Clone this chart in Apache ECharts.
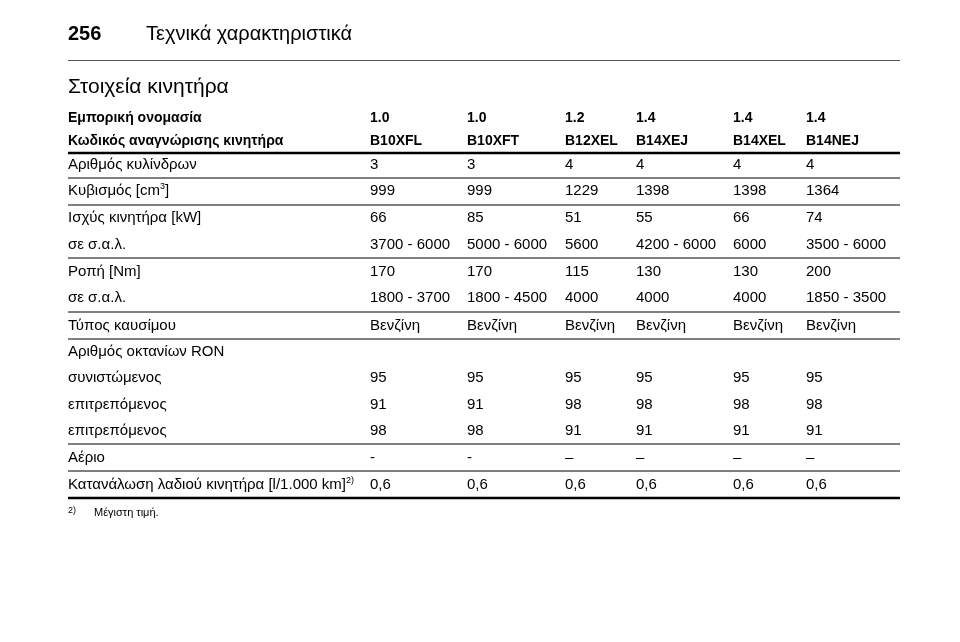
<!DOCTYPE html>
<html>
<head>
<meta charset="utf-8">
<script src="https://cdn.jsdelivr.net/npm/echarts@6/dist/echarts.min.js"></script>
<style>html,body{margin:0;padding:0;background:#fff}#main{width:960px;height:642px}</style>
</head>
<body>
<div id="main"></div>
<script>
// δεδομένα πίνακα
var rowLabels = ['Εμπορική ονομασία', 'Κωδικός αναγνώρισης κινητήρα', 'Αριθμός κυλίνδρων', 'Κυβισμός [cm{sup|3}]',
	'Ισχύς κινητήρα [kW]', 'σε σ.α.λ.', 'Ροπή [Nm]', 'σε σ.α.λ.', 'Τύπος καυσίμου', 'Αριθμός οκτανίων RON',
	'συνιστώμενος', 'επιτρεπόμενος', 'επιτρεπόμενος', 'Αέριο', 'Κατανάλωση λαδιού κινητήρα [l/1.000 km]{sup|2)}'];
var engineSize = ['1.0', '1.0', '1.2', '1.4', '1.4', '1.4'];
var engineCode = ['B10XFL', 'B10XFT', 'B12XEL', 'B14XEJ', 'B14XEL', 'B14NEJ'];
var cylinders = ['3', '3', '4', '4', '4', '4'];
var capacity = ['999', '999', '1229', '1398', '1398', '1364'];
var power = ['66', '85', '51', '55', '66', '74'];
var powerRpm = ['3700 - 6000', '5000 - 6000', '5600', '4200 - 6000', '6000', '3500 - 6000'];
var torque = ['170', '170', '115', '130', '130', '200'];
var torqueRpm = ['1800 - 3700', '1800 - 4500', '4000', '4000', '4000', '1850 - 3500'];
var fuel = ['Βενζίνη', 'Βενζίνη', 'Βενζίνη', 'Βενζίνη', 'Βενζίνη', 'Βενζίνη'];
var ronRecommended = ['95', '95', '95', '95', '95', '95'];
var ronAllowed1 = ['91', '91', '98', '98', '98', '98'];
var ronAllowed2 = ['98', '98', '91', '91', '91', '91'];
var gas = ['-', '-', '–', '–', '–', '–'];
var oil = ['0,6', '0,6', '0,6', '0,6', '0,6', '0,6'];

var rowValues = [engineSize, engineCode, cylinders, capacity, power, powerRpm, torque, torqueRpm, fuel,
	[], ronRecommended, ronAllowed1, ronAllowed2, gas, oil];

// διάταξη
var colX = [68, 370, 467, 565, 636, 733, 806];
var rowY = [118, 141, 165, 191, 218, 245, 272, 298, 326, 352, 378, 405, 431, 458, 485];
// γραμμές: [y, πάχος]
var rules = [[153, 2.5], [178, 1], [205, 1], [258, 1], [312, 1], [339, 1], [444, 1], [471, 1], [498, 2.5]];

var cells = [];
for (var r = 0; r < rowLabels.length; r++) {
	cells.push([0, r, rowLabels[r]]);
	for (var c = 0; c < rowValues[r].length; c++) {
		cells.push([c + 1, r, rowValues[r][c]]);
	}
}

var font = '"Liberation Sans", Arial, sans-serif';

var option = {
	animation: false,
	grid: { left: 0, right: 0, top: 0, bottom: 0 },
	xAxis: { type: 'value', min: 0, max: 960, show: false },
	yAxis: { type: 'value', min: 0, max: 642, inverse: true, show: false },
	graphic: [
		{ type: 'text', left: 68, top: 24, style: { text: '256', font: 'bold 20px ' + font, fill: '#000' } },
		{ type: 'text', left: 146, top: 24, style: { text: 'Τεχνικά χαρακτηριστικά', font: '20px ' + font, fill: '#000' } },
		{ type: 'rect', shape: { x: 68, y: 60, width: 832, height: 1 }, style: { fill: '#555' } },
		{ type: 'text', left: 68, top: 77, style: { text: 'Στοιχεία κινητήρα', font: '21px ' + font, fill: '#000' } },
		{ type: 'text', left: 68, top: 506, style: { text: '2)', font: '9px ' + font, fill: '#000' } },
		{ type: 'text', left: 94, top: 507, style: { text: 'Μέγιστη τιμή.', font: '11px ' + font, fill: '#000' } }
	],
	series: [{
		type: 'custom',
		data: rules,
		renderItem: function (params, api) {
			var p1 = api.coord([68, api.value(0)]);
			var p2 = api.coord([900, api.value(0)]);
			return { type: 'line', shape: { x1: p1[0], y1: p1[1], x2: p2[0], y2: p2[1] },
				style: { stroke: '#000', lineWidth: api.value(1) } };
		}
	}, {
		type: 'custom',
		data: cells,
		renderItem: function (params, api) {
			var c = api.value(0), r = api.value(1);
			var p = api.coord([colX[c], rowY[r]]);
			return {
				type: 'text',
				x: p[0], y: p[1],
				style: {
					text: cells[params.dataIndex][2],
					font: (r < 2 ? 'bold 14px ' : '15px ') + font,
					fill: '#000',
					verticalAlign: 'middle',
					rich: { sup: { fontSize: 9, fontFamily: font, padding: [0, 0, 8, 0] } }
				}
			};
		}
	}]
};

var chart = echarts.init(document.getElementById('main'));
chart.setOption(option);
</script>
</body>
</html>
